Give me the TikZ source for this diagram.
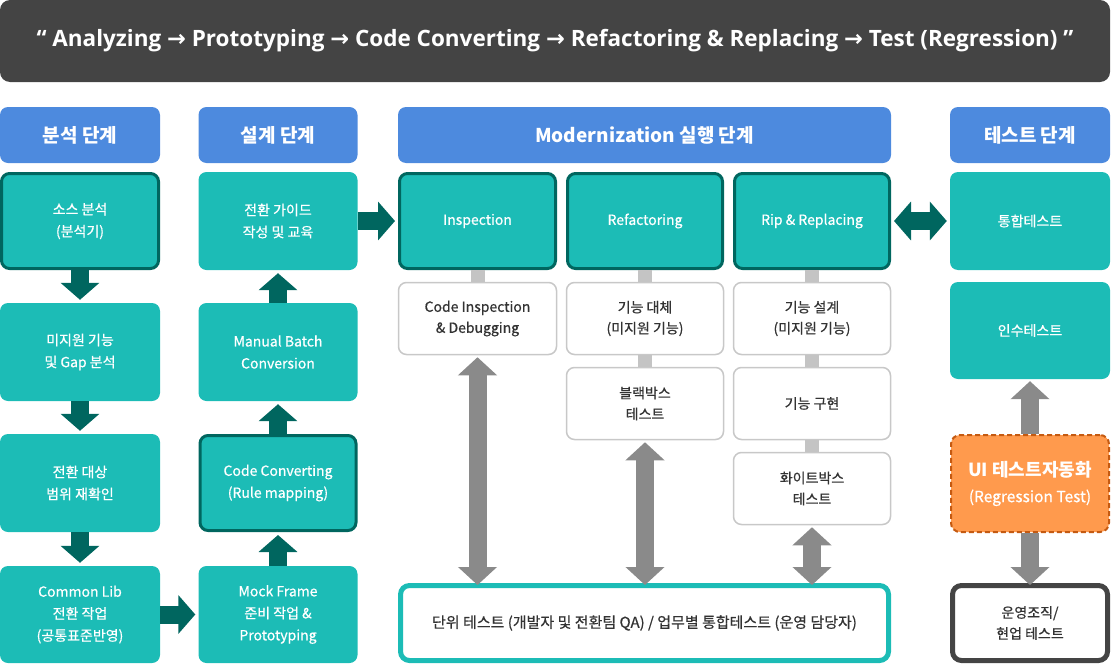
\documentclass[tikz,border=0pt]{standalone}
\usepackage{fontspec}
\setmainfont{Noto Sans CJK KR}
\newfontfamily\boxfont{Noto Sans CJK KR}[FakeBold=0.6]
\newfontfamily\banfont{Open Sans}
\newfontfamily\arrfont{DejaVu Sans}
\usetikzlibrary{arrows.meta}
\definecolor{cteal}{HTML}{1CBCB6}
\definecolor{cdteal}{HTML}{00665F}
\definecolor{cblue}{HTML}{4D8ADE}
\definecolor{cban}{HTML}{444444}
\definecolor{clgray}{HTML}{C4C4C4}
\definecolor{cagray}{HTML}{8A8A8A}
\definecolor{cbord}{HTML}{C8C8C8}
\definecolor{ctext}{HTML}{333333}
\definecolor{corange}{HTML}{FF9A4D}
\definecolor{cdorange}{HTML}{C55A11}
\newcommand{\rarr}{{\arrfont\bfseries →}}
\tikzset{
  x=1pt, y=-1pt,
  hdr/.style={fill=cblue, rounded corners=8pt, text=white, minimum height=56pt, inner sep=0pt,
    font=\bfseries\fontsize{19}{22}\selectfont},
  tbox/.style={fill=cteal, rounded corners=8pt, text=white, align=center, inner sep=0pt,
    font=\boxfont\fontsize{14}{22}\selectfont},
  tboxb/.style={tbox, draw=cdteal, line width=3pt},
  wbox/.style={fill=white, draw=cbord, line width=1.5pt, rounded corners=8pt, text=ctext, align=center,
    inner sep=0pt, font=\boxfont\fontsize{14}{21}\selectfont},
  bigarrow/.style={draw=cdteal, line width=18pt, -{Triangle[width=38pt,length=17pt]}, shorten >=3pt},
  dblteal/.style={draw=cdteal, line width=18pt, {Triangle[width=38pt,length=17pt]}-{Triangle[width=38pt,length=17pt]}, shorten >=3pt, shorten <=3pt},
  grayarrow/.style={draw=cagray, line width=18pt, {Triangle[width=38pt,length=18pt]}-{Triangle[width=38pt,length=18pt]}, shorten <=2pt, shorten >=-2pt},
  grayone/.style={draw=cagray, line width=18pt, -{Triangle[width=38pt,length=18pt]}, shorten >=2pt},
  link/.style={draw=clgray, line width=14pt},
}
\begin{document}
\begin{tikzpicture}
\useasboundingbox (0,0) rectangle (1112,664);
% banner
\node[fill=cban, rounded corners=10pt, minimum width=1110pt, minimum height=82pt, inner sep=0pt,
  text=white, font=\banfont\bfseries\fontsize{22.5}{26}\selectfont] (ban) at (555,41)
  {“ Analyzing \rarr{} Prototyping \rarr{} Code Converting \rarr{} Refactoring \& Replacing \rarr{} Test (Regression) ”};
% headers
\node[hdr, minimum width=160pt] (h1) at (80,135) {분석 단계};
\node[hdr, minimum width=159pt] (h2) at (278,135) {설계 단계};
\node[hdr, minimum width=493pt] (h3) at (644.5,135) {Modernization 실행 단계};
\node[hdr, minimum width=160pt] (h4) at (1030,135) {테스트 단계};
% column 1
\node[tboxb, minimum width=157pt, minimum height=95pt] (a1) at (80,221) {소스 분석\\(분석기)};
\node[tbox, minimum width=160pt, minimum height=98pt] (a2) at (80,352) {미지원 기능\\및 Gap 분석};
\node[tbox, minimum width=160pt, minimum height=98pt] (a3) at (80,483) {전환 대상\\범위 재확인};
\node[tbox, minimum width=160pt, minimum height=97pt] (a4) at (80,614.5) {Common Lib\\전환 작업\\(공통표준반영)};
% column 2
\node[tbox, minimum width=159pt, minimum height=98pt] (b1) at (278,221) {전환 가이드\\작성 및 교육};
\node[tbox, minimum width=159pt, minimum height=98pt] (b2) at (278,352) {Manual Batch\\Conversion};
\node[tboxb, minimum width=156pt, minimum height=95pt] (b3) at (278,483) {Code Converting\\(Rule mapping)};
\node[tbox, minimum width=159pt, minimum height=97pt] (b4) at (278,614.5) {Mock Frame\\준비 작업 \&\\Prototyping};
% middle
\node[tboxb, minimum width=156pt, minimum height=95pt] (c1) at (477.5,221) {Inspection};
\node[tboxb, minimum width=155pt, minimum height=95pt] (c2) at (645,221) {Refactoring};
\node[tboxb, minimum width=155pt, minimum height=95pt] (c3) at (812,221) {Rip \& Replacing};
\node[wbox, minimum width=158pt, minimum height=72pt] (d1) at (477.5,318.5) {Code Inspection\\\& Debugging};
\node[wbox, minimum width=157pt, minimum height=72pt] (d2) at (645,318.5) {기능 대체\\(미지원 기능)};
\node[wbox, minimum width=157pt, minimum height=72pt] (d3) at (645,403.5) {블랙박스\\테스트};
\node[wbox, minimum width=157pt, minimum height=72pt] (e1) at (812,318.5) {기능 설계\\(미지원 기능)};
\node[wbox, minimum width=157pt, minimum height=72pt] (e2) at (812,403.5) {기능 구현};
\node[wbox, minimum width=157pt, minimum height=72pt] (e3) at (812,488.5) {화이트박스\\테스트};
\node[fill=white, draw=cteal, line width=5pt, rounded corners=9pt, minimum width=488pt, minimum height=75pt,
  inner sep=0pt, text=ctext, font=\boxfont\fontsize{15}{20}\selectfont] (f) at (644.5,623)
  {단위 테스트 (개발자 및 전환팀 QA) / 업무별 통합테스트 (운영 담당자)};
% right column
\node[tbox, minimum width=160pt, minimum height=98pt] (g1) at (1030,221) {통합테스트};
\node[tbox, minimum width=160pt, minimum height=97pt] (g2) at (1030,330.5) {인수테스트};
\node[fill=corange, draw=cdorange, line width=2pt, dash pattern=on 5pt off 3pt, rounded corners=9pt,
  minimum width=158pt, minimum height=97pt, inner sep=0pt, text=white, align=center,
  font=\fontsize{15.5}{26}\selectfont] (g3) at (1030,483.5)
  {{\bfseries\fontsize{18}{26}\selectfont UI 테스트자동화}\\{\boxfont (Regression Test)}};
\node[fill=white, draw=cban, line width=5pt, rounded corners=9pt, minimum width=155pt, minimum height=75pt,
  inner sep=0pt, text=ctext, align=center, font=\boxfont\fontsize{14}{21}\selectfont] (g4) at (1030,623)
  {운영조직/\\현업 테스트};
% links
\draw[link] (c1.south) -- (d1.north);
\draw[link] (c2.south) -- (d2.north);
\draw[link] (d2.south) -- (d3.north);
\draw[link] (c3.south) -- (e1.north);
\draw[link] (e1.south) -- (e2.north);
\draw[link] (e2.south) -- (e3.north);
% teal arrows
\draw[bigarrow] (a1.south) -- (a2.north);
\draw[bigarrow] (a2.south) -- (a3.north);
\draw[bigarrow] (a3.south) -- (a4.north);
\draw[bigarrow] (a4.east) -- (b4.west);
\draw[bigarrow] (b4.north) -- (b3.south);
\draw[bigarrow] (b3.north) -- (b2.south);
\draw[bigarrow] (b2.north) -- (b1.south);
\draw[bigarrow] (b1.east) -- (c1.west);
\draw[dblteal] (c3.east) -- (g1.west);
% gray arrows
\draw[grayarrow] (d1.south) -- (d1.south |- f.north);
\draw[grayarrow] (d3.south) -- (d3.south |- f.north);
\draw[grayarrow] (e3.south) -- (e3.south |- f.north);
\draw[grayone] (g3.north) -- (g2.south);
\draw[grayone, shorten >=-2pt] (g3.south) -- (g4.north);
\end{tikzpicture}
\end{document}
